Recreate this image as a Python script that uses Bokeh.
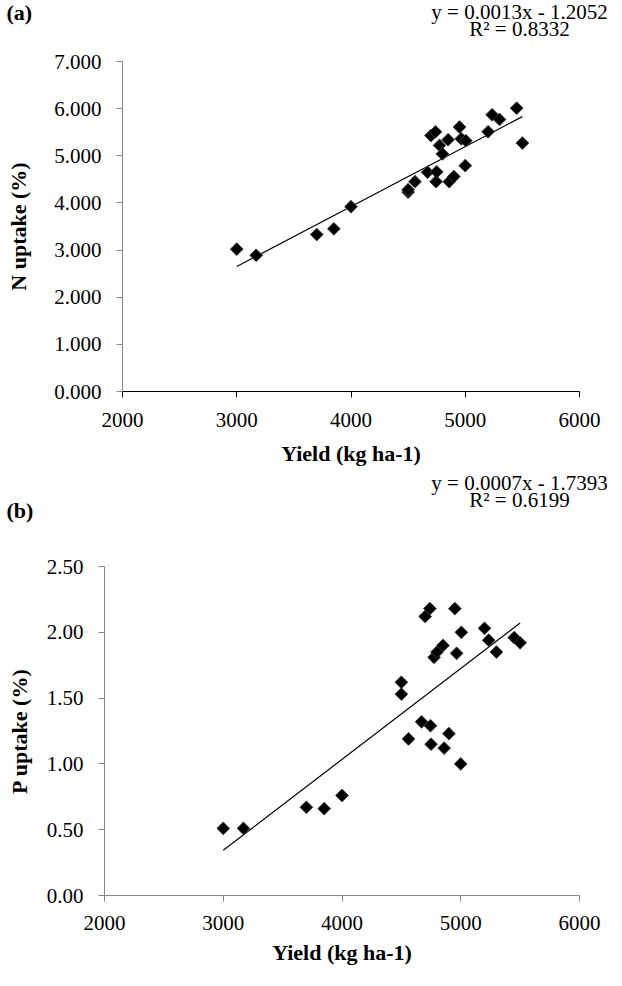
import numpy as np
from bokeh.plotting import figure
from bokeh.models import Range1d, FixedTicker, NumeralTickFormatter, ColumnDataSource
from bokeh.core.properties import value
from bokeh.layouts import column
from bokeh.embed import file_html
from bokeh.resources import INLINE

# ---- data ----
yield_kg = [3000, 3170, 3700, 3850, 4000, 4500, 4500, 4560, 4670, 4700, 4740, 4745, 4750,
            4775, 4800, 4850, 4860, 4900, 4950, 4965, 5000, 5005, 5200, 5235, 5300, 5450, 5500]
n_uptake = [3.02, 2.89, 3.33, 3.45, 3.92, 4.23, 4.28, 4.45, 4.65, 5.43, 5.51, 4.45, 4.66,
            5.22, 5.04, 5.34, 4.45, 4.56, 5.61, 5.36, 4.79, 5.32, 5.51, 5.87, 5.77, 6.01, 5.27]
p_uptake = [0.51, 0.51, 0.67, 0.66, 0.76, 1.62, 1.53, 1.19, 1.32, 2.12, 2.18, 1.29, 1.15,
            1.81, 1.85, 1.90, 1.12, 1.23, 2.18, 1.84, 1.00, 2.00, 2.03, 1.94, 1.85, 1.96, 1.92]

x_ticks = [2000, 3000, 4000, 5000, 6000]
n_ticks = [0, 1, 2, 3, 4, 5, 6, 7]
p_ticks = [0.0, 0.5, 1.0, 1.5, 2.0, 2.5]

eq_a = ["y = 0.0013x - 1.2052", "R² = 0.8332"]
eq_b = ["y = 0.0007x - 1.7393", "R² = 0.6199"]
tags = ["(a)", "(b)"]

FONT = "Liberation Serif"
W = 614


def header(h, tag, eq, tag_y, eq_y):
    f = figure(width=W, height=h, x_range=Range1d(0, W), y_range=Range1d(0, h),
               output_backend="svg", toolbar_location=None, title=None,
               x_axis_type=None, y_axis_type=None, min_border=0, frame_align=False)
    f.outline_line_color = None
    f.background_fill_color = "white"
    f.border_fill_color = "white"
    f.text(x=[6], y=[tag_y], text=[tag], text_font=value(FONT),
           text_font_size=value("22px"), text_font_style="bold",
           text_align="left", text_baseline="middle", text_color="black")
    f.text(x=[519, 519], y=[eq_y, eq_y - 17], text=eq, text_font=value(FONT),
           text_font_size=value("21px"), text_align="center",
           text_baseline="middle", text_color="black")
    return f


def panel(h, left, top, bottom, ys, y_end, y_ticks, y_fmt, ylab,
          xaxis_color, yaxis_color, ylab_standoff, ytitle_standoff,
          xlab_standoff, xtitle_standoff):
    p = figure(width=W, height=h, output_backend="svg", toolbar_location=None, title=None,
               x_range=Range1d(2000, 6000), y_range=Range1d(0, y_end),
               min_border_left=left, min_border_right=W - 579,
               min_border_top=top, min_border_bottom=bottom, frame_align=False)
    p.outline_line_color = None
    p.grid.visible = False
    p.background_fill_color = "white"
    p.border_fill_color = "white"

    xa = p.xaxis[0]
    xa.ticker = FixedTicker(ticks=x_ticks)
    xa.axis_label = "Yield (kg ha-1)"
    ya = p.yaxis[0]
    ya.ticker = FixedTicker(ticks=y_ticks)
    ya.formatter = NumeralTickFormatter(format=y_fmt)
    ya.axis_label = ylab
    for ax, col in ((xa, xaxis_color), (ya, yaxis_color)):
        ax.axis_line_color = col
        ax.major_tick_line_color = col
        ax.minor_tick_line_color = None
        ax.major_tick_out = 6
        ax.major_tick_in = 0
        ax.major_label_text_font = FONT
        ax.major_label_text_font_size = "21px"
        ax.major_label_text_color = "black"
        ax.axis_label_text_font = FONT
        ax.axis_label_text_font_size = "22px"
        ax.axis_label_text_font_style = "bold"
        ax.axis_label_text_color = "black"
    xa.major_label_standoff = xlab_standoff
    xa.axis_label_standoff = xtitle_standoff
    ya.major_label_standoff = ylab_standoff
    ya.axis_label_standoff = ytitle_standoff

    # linear trendline (least squares on the data)
    xs = np.array(yield_kg, dtype=float)
    coef = np.polyfit(xs, np.array(ys, dtype=float), 1)
    lx = np.array([xs.min(), xs.max()])
    p.line(lx, coef[0] * lx + coef[1], line_color="black", line_width=1.2)

    src = ColumnDataSource(dict(x=yield_kg, y=ys))
    p.scatter("x", "y", source=src, marker="square", angle=np.pi / 4, size=9,
              fill_color="black", line_color="#3c3c3c", line_width=1)
    return p


ha = header(42, tags[0], eq_a, 30, 31)
pa = panel(429, 122, 19, 80, n_uptake, 7, n_ticks, "0.000", "N uptake (%)",
           "black", "#868686", 15, 20, 15, 11)
hb = header(68, tags[1], eq_b, 29, 57)
pb = panel(431, 104, 27, 75, p_uptake, 2.5, p_ticks, "0.00", "P uptake (%)",
           "#868686", "#868686", 15, 12, 14, 7)

layout = column(ha, pa, hb, pb, spacing=0)
open("out.html", "w").write(file_html(layout, INLINE))
